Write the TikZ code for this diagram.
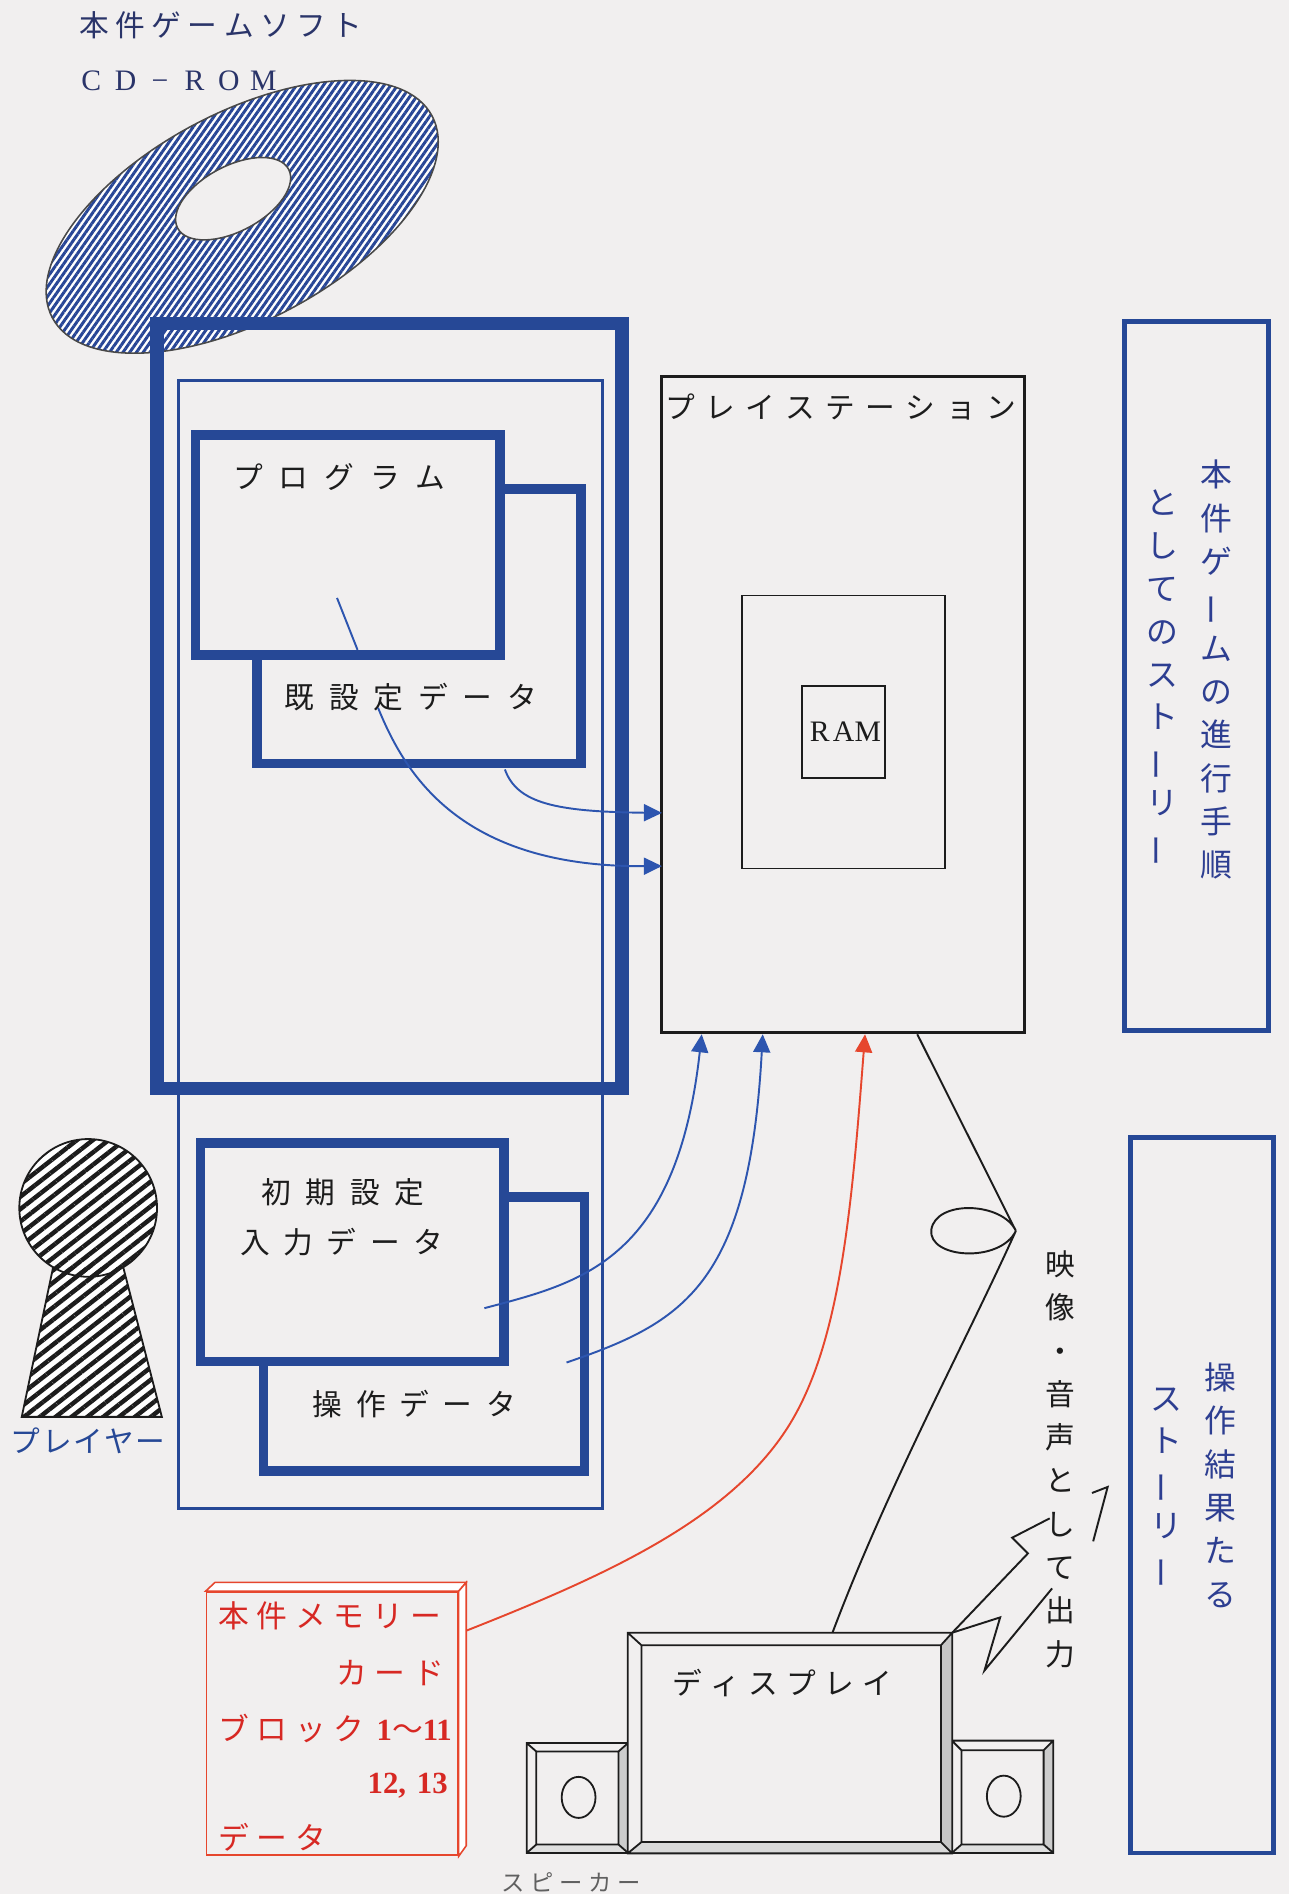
\documentclass[tikz,border=0pt]{standalone}
\usepackage{fontspec}
\usepackage{graphicx}
\setmainfont{Liberation Serif}
\newfontfamily\jp{Noto Sans CJK JP}
\usetikzlibrary{arrows.meta,patterns.meta,fit,calc}

% one drawing unit
\newlength\px
\setlength\px{0.5669pt}

\definecolor{paper}{RGB}{241,239,239}
\definecolor{navy}{RGB}{38,72,150}
\definecolor{flowblue}{RGB}{45,85,175}
\definecolor{discblue}{RGB}{40,70,150}
\definecolor{ink}{RGB}{28,28,28}
\definecolor{titleink}{RGB}{42,52,105}
\definecolor{storyink}{RGB}{45,62,145}
\definecolor{cardred}{RGB}{230,70,45}
\definecolor{cardink}{RGB}{215,40,35}

% letter-spaced text: every character in a box of fixed pitch
\ExplSyntaxOn
\NewDocumentCommand \pitch { m m }
  { \tl_map_inline:nn {#2} { \makebox[#1\px]{##1} } }
% vertical text: one character per line, fixed line pitch
\NewDocumentCommand \vtext { m m }
  {
    \vbox:n
      {
        \baselineskip = #1\px
        \lineskiplimit = -\maxdimen
        \lineskip = 0pt
        \tl_map_inline:nn {#2} { \hbox_to_wd:nn {1.3em} { \hss ##1 \hss } }
      }
  }
\ExplSyntaxOff
\newcommand\vbar{\rotatebox[origin=c]{90}{ー}}

\tikzset{
  boxthick/.style={draw=navy, line width=11\px, inner sep=0pt},
  boxthin/.style={draw=navy, line width=2.5\px, inner sep=0pt},
  boxdata/.style={draw=navy, line width=8\px, fill=paper, inner sep=0pt},
  boxstory/.style={draw=navy, line width=4\px, inner sep=0pt},
  boxblack/.style={draw=ink, line width=2.5\px, inner sep=0pt},
  boxfine/.style={draw=ink, line width=1.6\px, inner sep=0pt},
  jtxt/.style={inner sep=0pt, text=ink, font=\jp\fontsize{14}{16}\selectfont},
  storytxt/.style={inner sep=0pt, text=storyink, font=\jp\fontsize{15}{17}\selectfont},
  cardtxt/.style={inner sep=0pt, text=cardink, font=\jp\fontsize{14.5}{17}\selectfont},
  flowline/.style={draw=flowblue, line width=1.6\px},
  flowarrow/.style={flowline, -{Triangle[length=8.5pt,width=8pt]}},
  redarrow/.style={draw=cardred, line width=1.6\px, -{Triangle[length=8.5pt,width=8pt]}},
  wire/.style={draw=ink, line width=1.6\px},
}

\begin{document}
\begin{tikzpicture}[x=0.02cm, y=-0.02cm]
\fill[paper] (0,0) rectangle (1067,1568);
\useasboundingbox (0,0) rectangle (1067,1568);

% ---- CD-ROM title and disc
\node[anchor=west, inner sep=0pt, text=titleink, font=\jp\fontsize{14}{16}\selectfont]
  (title) at (63,21) {\pitch{30}{本件ゲームソフト}};
\node[anchor=west, inner sep=0pt, text=titleink, font=\fontsize{14}{16}\selectfont]
  (cdrom) at (61,67) {\pitch{28.6}{CD−ROM}};

\path[fill=white, even odd rule]
  (200.5,179.5) circle[x radius=178, y radius=86, rotate=28]
  (193,164.5) circle[x radius=52, y radius=27, rotate=28];
\path[pattern={Lines[angle=55,distance=2.6pt,line width=1.4pt]}, pattern color=discblue, even odd rule]
  (200.5,179.5) circle[x radius=178, y radius=86, rotate=28]
  (193,164.5) circle[x radius=52, y radius=27, rotate=28];
\draw[ink!80, line width=1.3\px]
  (200.5,179.5) circle[x radius=178, y radius=86, rotate=28]
  (193,164.5) circle[x radius=52, y radius=27, rotate=28];

% ---- contents of the CD-ROM
\node[boxthin, fit={(148,315) (499,1249)}] (cdbody) {};
\node[boxthick, fit={(130,268) (515,901)}] (cdframe) {};

\node[boxdata, fit={(213,405) (481,632)}] (kis) {};
\node[boxdata, fit={(162,360) (414,542)}] (prog) {};
\node[jtxt] (progtxt) at (281,395) {\pitch{38}{プログラム}};
\node[jtxt] (kistxt) at (340,577) {\pitch{37}{既設定データ}};

% ---- player input data
\node[boxdata, fit={(218,991) (484,1218)}] (opdata) {};
\node[boxdata, fit={(166,946) (417,1127)}] (inidata) {};
\node[jtxt] (initxt1) at (284,987) {\pitch{37}{初期設定}};
\node[jtxt] (initxt2) at (283,1028) {\pitch{36}{入力データ}};
\node[jtxt] (optxt) at (343,1162) {\pitch{36}{操作データ}};

% ---- player
\path[fill=white] (73,1000) circle[radius=57];
\path[fill=white] (44,1049) -- (102,1049) -- (134,1173) -- (18,1173) -- cycle;
\path[pattern={Lines[angle=38,distance=4.6pt,line width=2.1pt]}, pattern color=ink]
  (73,1000) circle[radius=57];
\path[pattern={Lines[angle=38,distance=4.6pt,line width=2.1pt]}, pattern color=ink]
  (44,1049) -- (102,1049) -- (134,1173) -- (18,1173) -- cycle;
\draw[ink, line width=1.5\px] (73,1000) circle[radius=57];
\draw[ink, line width=1.5\px] (44,1049) -- (18,1173) -- (134,1173) -- (102,1049);
\node[inner sep=0pt, text=navy, font=\jp\fontsize{14}{16}\selectfont]
  (player) at (73,1193) {\pitch{26}{プレイヤー}};

% ---- PlayStation
\node[boxblack, fit={(548,312) (848,855)}] (ps) {};
\node[jtxt] (pstxt) at (696,337) {\pitch{33.3}{プレイステーション}};
\node[boxfine, fit={(614,493) (782,719)}] (board) {};
\node[boxfine, fit={(664,568) (733,644)}] (ram) {};
\node[inner sep=0pt, text=ink, font=\fontsize{14}{17}\selectfont] (ramtxt) at (ram.center) {\pitch{20}{RAM}};

% ---- story boxes
\node[boxstory, fit={(931,266) (1050,853)}] (story1) {};
\node[storytxt] (story1a) at (1007,554.5) {\vtext{36}{本件ゲ{\vbar}ムの進行手順}};
\node[storytxt] (story1b) at (962,561.5) {\vtext{35.6}{としてのスト{\vbar}リ{\vbar}}};
\node[boxstory, fit={(936,942) (1054,1534)}] (story2) {};
\node[storytxt] (story2a) at (1010,1229.5) {\vtext{36}{操作結果たる}};
\node[storytxt] (story2b) at (966,1232) {\vtext{35}{スト{\vbar}リ{\vbar}}};

% ---- memory card
\node[fit={(171,1318) (379,1536)}, draw=cardred, line width=1.5\px, fill=paper, inner sep=0pt] (card) {};
\draw[cardred, line width=1.3\px, fill=white]
  (card.north west) -- (178,1310) -- (386,1310) -- (card.north east) -- cycle;
\draw[cardred, line width=1.3\px, fill=white]
  (card.north east) -- (386,1310) -- (386,1528) -- (card.south east) -- cycle;
\node[cardtxt, anchor=west] (card1) at (177,1338) {\pitch{32}{本件メモリー}};
\node[cardtxt, anchor=east] (card2) at (371,1385) {\pitch{32}{カード}};
\node[cardtxt, anchor=west] (card3) at (177,1431)
  {\pitch{32}{ブロック}\hspace{7\px}{\rmfamily\bfseries\fontsize{14.5}{17}\selectfont 1}〜{\rmfamily\bfseries\fontsize{14.5}{17}\selectfont 11}};
\node[cardtxt, anchor=east] (card4) at (371,1478)
  {{\rmfamily\bfseries\fontsize{14.5}{17}\selectfont 12,\hspace{9\px}13}};
\node[cardtxt, anchor=west] (card5) at (177,1521) {\pitch{32}{データ}};

% ---- display with speakers
\path[fill=paper] (436,1443) rectangle (520,1534);
\fill[gray!40] (512,1450) -- (520,1443) -- (520,1534) -- (512,1527) -- cycle;
\fill[gray!25] (444,1527) -- (512,1527) -- (520,1534) -- (436,1534) -- cycle;
\draw[ink, line width=1.5\px] (436,1443) rectangle (520,1534) (444,1450) rectangle (512,1527)
  (436,1443) -- (444,1450) (520,1443) -- (512,1450) (436,1534) -- (444,1527) (520,1534) -- (512,1527);
\draw[ink, line width=1.5\px] (479,1488) ellipse[x radius=14, y radius=17];

\path[fill=paper] (788,1441) rectangle (872,1534);
\fill[gray!40] (864,1449) -- (872,1441) -- (872,1534) -- (864,1527) -- cycle;
\fill[gray!25] (796,1527) -- (864,1527) -- (872,1534) -- (788,1534) -- cycle;
\draw[ink, line width=1.5\px] (788,1441) rectangle (872,1534) (796,1449) rectangle (864,1527)
  (788,1441) -- (796,1449) (872,1441) -- (864,1449) (788,1534) -- (796,1527) (872,1534) -- (864,1527);
\draw[ink, line width=1.5\px] (831,1487) ellipse[x radius=14, y radius=17];

\node[fit={(520,1352) (788,1534)}, fill=paper, inner sep=0pt] (disp) {};
\fill[gray!45] (779,1362) -- (disp.north east) -- (disp.south east) -- (779,1525) -- cycle;
\fill[gray!30] (531,1525) -- (779,1525) -- (disp.south east) -- (disp.south west) -- cycle;
\draw[ink, line width=1.5\px] (disp.north west) rectangle (disp.south east)
  (531,1362) rectangle (779,1525)
  (disp.north west) -- (531,1362) (disp.north east) -- (779,1362)
  (disp.south west) -- (531,1525) (disp.south east) -- (779,1525);
\node[jtxt] (disptxt) at (648,1393) {\pitch{31.6}{ディスプレイ}};
\node[inner sep=0pt, text=ink!70, font=\jp\fontsize{11}{13}\selectfont] (spktxt) at (473,1558) {\pitch{24}{スピーカー}};

% ---- output to the display
\coordinate (psout) at ($(ps.south west)!0.703!(ps.south east)$);
\coordinate (dispin) at ($(disp.north west)!0.631!(disp.north east)$);
\coordinate (knot) at (841,1019);
\draw[wire] (psout) -- (knot)
  .. controls (830,995) and (775,993) .. (771,1018)
  .. controls (768,1042) and (828,1046) .. (knot)
  .. controls (800,1110) and (735,1230) .. (dispin);
\node[jtxt] (avtxt) at (878,1208) {\vtext{36}{映像・音声として出力}};
\draw[wire, line join=miter] (disp.north east) -- (851,1286) -- (838,1273) -- (869,1257);
\draw[wire, line join=miter] (disp.north east) -- (828,1339) -- (815,1383) -- (871,1315);
\draw[wire] (904,1236) -- (917,1231) -- (905,1276);

% ---- data flows into the PlayStation
\coordinate (progdot) at (279,495);
\coordinate (progedge) at (296,538);
\coordinate (kisdot) at (313,586);
\coordinate (kisedge) at (418,637);
\coordinate (psB) at (548,717);
\coordinate (psC) at (548,673);
\draw[flowline] (progdot) -- (progedge);
\draw[flowarrow] (kisedge) .. controls (428,665) and (460,672) .. (psC);
\draw[flowarrow] (kisdot) .. controls (335,640) and (380,718) .. (psB);

\coordinate (inidot) at (401,1083);
\coordinate (opdot) at (469,1128);
\coordinate (cardout) at (386,1350);
\coordinate (psD) at ($(ps.south west)!0.113!(ps.south east)$);
\coordinate (psE) at ($(ps.south west)!0.28!(ps.south east)$);
\coordinate (psF) at ($(ps.south west)!0.56!(ps.south east)$);
\draw[flowarrow] (inidot) .. controls (480,1062) and (560,1045) .. (psD);
\draw[flowarrow] (opdot) .. controls (565,1095) and (620,1065) .. (psE);
\draw[redarrow] (cardout) .. controls (500,1305) and (600,1260) .. (650,1185)
  .. controls (696,1116) and (705,1000) .. (psF);
\end{tikzpicture}
\end{document}
